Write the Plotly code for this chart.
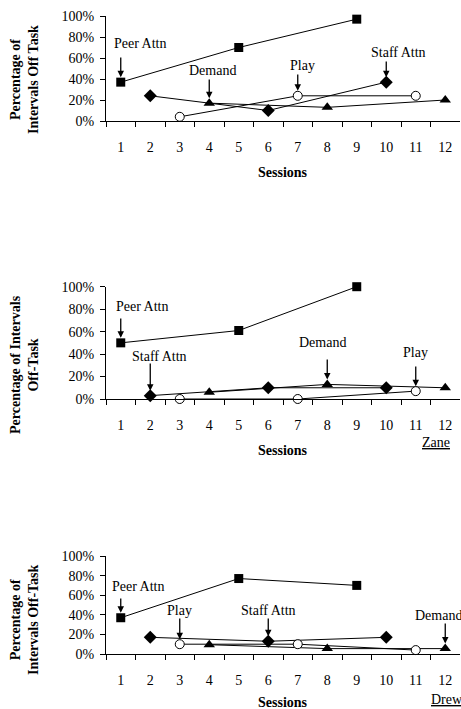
import plotly.graph_objects as go

# ---------------- data ----------------
sessions = list(range(1, 13))
tick_labels = [str(s) for s in sessions]
y_ticks = [0, 20, 40, 60, 80, 100]
y_tick_labels = ["0%", "20%", "40%", "60%", "80%", "100%"]

peer_x = [1, 5, 9]
staff_x = [2, 6, 10]
play_x = [3, 7, 11]
demand_x = [4, 8, 12]

# Panel 1 (top)
p1_peer = [37, 70, 97]
p1_staff = [24, 10, 37]
p1_play = [4, 24, 24]
p1_demand = [17, 13, 20]

# Panel 2 (Zane)
p2_peer = [50, 61, 100]
p2_staff = [3, 10, 10]
p2_play = [0, 0, 7]
p2_demand = [6, 13, 10]

# Panel 3 (Drew)
p3_peer = [37, 77, 70]
p3_staff = [17, 13, 17]
p3_play = [10, 10, 4]
p3_demand = [9.5, 5.5, 5.5]

y_titles = ["Percentage of<br>Intervals Off Task",
            "Percentage of Intervals<br>Off-Task",
            "Percentage of<br>Intervals Off-Task"]
x_title = "Sessions"
names = ["", "Zane", "Drew"]

# ---------------- layout helpers ----------------
W, H = 461, 709
FONT = "Liberation Serif, Times New Roman, serif"
# pixel geometry of each panel: (y of 0%, y of 100%)
panels = [(121, 16), (399, 286.7), (654, 556)]
x_left, x_right = 106, 460


def fx(px):
    return px / W


def fy(py):
    return 1 - py / H


fig = go.Figure()

series_sets = [
    (p1_peer, p1_staff, p1_play, p1_demand),
    (p2_peer, p2_staff, p2_play, p2_demand),
    (p3_peer, p3_staff, p3_play, p3_demand),
]

for i, (peer, staff, play, demand) in enumerate(series_sets):
    suffix = "" if i == 0 else str(i + 1)
    xa, ya = "x" + suffix, "y" + suffix
    common = dict(mode="lines+markers", xaxis=xa, yaxis=ya, showlegend=False,
                  cliponaxis=False, line=dict(color="black", width=1))
    fig.add_trace(go.Scatter(x=peer_x, y=peer, name="Peer Attn",
                             marker=dict(symbol="square", size=9, color="black"), **common))
    fig.add_trace(go.Scatter(x=staff_x, y=staff, name="Staff Attn",
                             marker=dict(symbol="diamond", size=10, color="black"), **common))
    fig.add_trace(go.Scatter(x=demand_x, y=demand, name="Demand",
                             marker=dict(symbol="triangle-up", size=10, color="black"), **common))
    fig.add_trace(go.Scatter(x=play_x, y=play, name="Play",
                             marker=dict(symbol="circle", size=9, color="white",
                                         line=dict(color="black", width=1)), **common))

    y0, y100 = panels[i]
    dom = [fy(y0), fy(y100)]
    fig.layout["xaxis" + suffix] = dict(
        domain=[fx(x_left), fx(x_right)], anchor=ya, range=[0.5, 12.5],
        tickvals=sessions, ticktext=tick_labels, ticks="outside", ticklen=5,
        tickcolor="rgba(0,0,0,0)", ticklabelstandoff=8,
        minor=dict(tickvals=[s + 0.5 for s in range(0, 12)], ticks="outside",
                   ticklen=5, tickcolor="black", tickwidth=1),
        showline=True, linecolor="black", linewidth=1, showgrid=False,
        zeroline=False, tickfont=dict(family=FONT, size=14, color="black"),
        fixedrange=True)
    fig.layout["yaxis" + suffix] = dict(
        domain=dom, anchor=xa, range=[0, 100], tickvals=y_ticks, ticktext=y_tick_labels,
        ticks="outside", ticklen=5, tickcolor="black", ticklabelstandoff=3,
        showline=True, linecolor="black", linewidth=1, showgrid=False,
        zeroline=False, tickfont=dict(family=FONT, size=14, color="black"),
        fixedrange=True)

# ---------------- annotations ----------------
def px_to_y(panel, py):
    y0, y100 = panels[panel]
    return (y0 - py) / (y0 - y100) * 100


def px_to_x(px):
    return 0.5 + (px - x_left) / (x_right - x_left) * 12


annotations = []
# label text positions (pixel centres) per panel
labels = [
    [("Peer Attn", 140, 44), ("Demand", 212, 71), ("Play", 302, 66), ("Staff Attn", 398, 53)],
    [("Peer Attn", 142, 306), ("Staff Attn", 159, 356), ("Demand", 322, 342), ("Play", 415, 352)],
    [("Peer Attn", 138, 586), ("Play", 179, 610), ("Staff Attn", 268, 610), ("Demand", 438, 615)],
]
# arrows: (session x, target value, tail pixel y)
arrows = [
    [(1, p1_peer[0], 56), (4, p1_demand[0], 78), (7, p1_play[1], 73), (10, p1_staff[2], 60)],
    [(1, p2_peer[0], 317), (2, p2_staff[0], 362), (8, p2_demand[1], 358), (11, p2_play[2], 365)],
    [(1, p3_peer[0], 597), (3, p3_play[0], 617), (6, p3_staff[1], 617), (12, p3_demand[2], 622)],
]

for i in range(3):
    suffix = "" if i == 0 else str(i + 1)
    xa, ya = "x" + suffix, "y" + suffix
    y0, y100 = panels[i]
    scale = (y0 - y100) / 100
    for text, cx, cy in labels[i]:
        annotations.append(dict(text=text, x=px_to_x(cx), y=px_to_y(i, cy), xref=xa, yref=ya,
                                showarrow=False, xanchor="center", yanchor="middle",
                                font=dict(family=FONT, size=14, color="black")))
    for sx, val, tail in arrows[i]:
        target_px = y0 - val * scale
        annotations.append(dict(text="", x=sx, y=val, xref=xa, yref=ya, showarrow=True,
                                ax=0, ay=-(target_px - tail), arrowhead=2, arrowsize=1,
                                arrowwidth=1.3, arrowcolor="black", standoff=5))
    # y-axis title
    annotations.append(dict(text="<b>" + y_titles[i] + "</b>", textangle=-90,
                            x=fx(24), y=fy([80, 365, 620][i]), xref="paper", yref="paper",
                            showarrow=False, xanchor="center", yanchor="middle",
                            font=dict(family=FONT, size=14, color="black")))
    # x-axis title
    annotations.append(dict(text="<b>" + x_title + "</b>", x=fx(283),
                            y=fy([172.7, 450, 702][i]), xref="paper", yref="paper",
                            showarrow=False, xanchor="center", yanchor="middle",
                            font=dict(family=FONT, size=14, color="black")))
    if names[i]:
        annotations.append(dict(text="<u>" + names[i] + "</u>", x=fx([0, 436, 447][i]),
                                y=fy([0, 442, 699][i]), xref="paper", yref="paper",
                                showarrow=False, xanchor="center", yanchor="middle",
                                font=dict(family=FONT, size=14, color="black")))

fig.update_layout(
    width=W, height=H, margin=dict(l=0, r=0, t=0, b=0, autoexpand=False),
    paper_bgcolor="white", plot_bgcolor="white",
    annotations=annotations, showlegend=False,
    font=dict(family=FONT, color="black"),
)

fig.write_html("out.html",
               config={"displayModeBar": False, "staticPlot": True},
               post_script="document.body.style.margin='0';"
                           "document.body.style.overflow='hidden';")
